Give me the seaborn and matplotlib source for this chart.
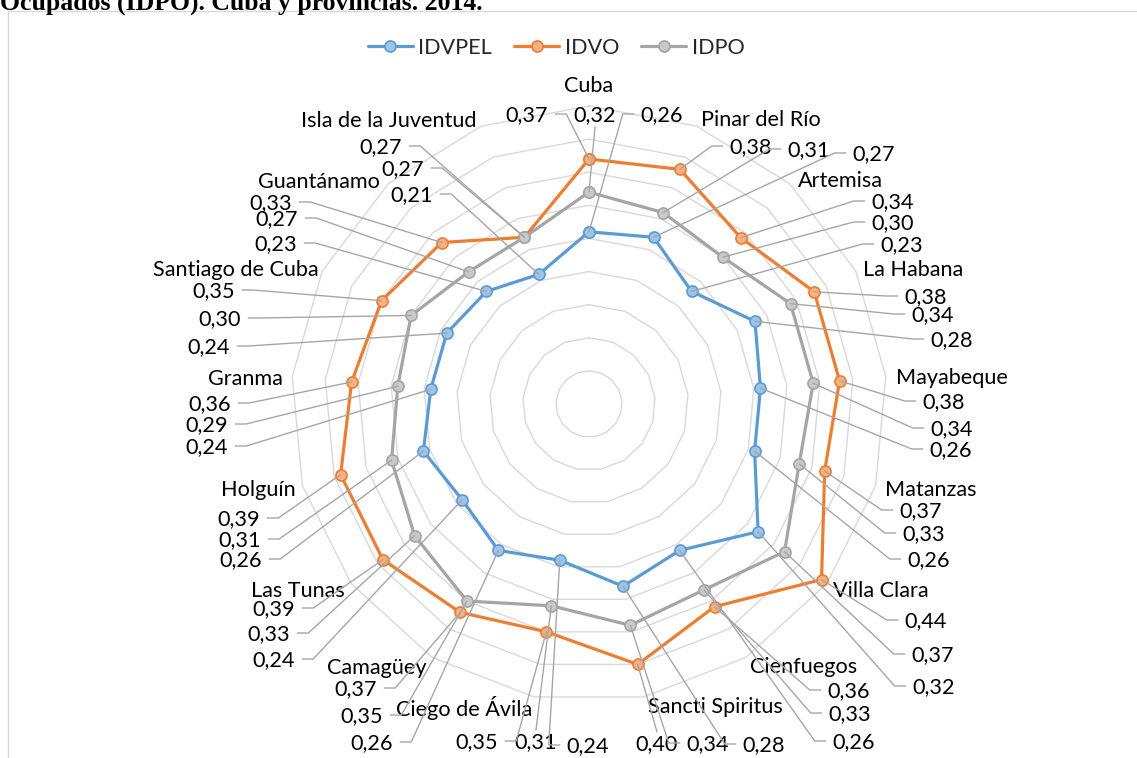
import numpy as np
import pandas as pd
import matplotlib
matplotlib.use("Agg")
import matplotlib.pyplot as plt
from matplotlib.lines import Line2D
from matplotlib.patches import Rectangle
import seaborn as sns

# ---- data -------------------------------------------------------------
categories = ["Cuba", "Pinar del Río", "Artemisa", "La Habana", "Mayabeque",
              "Matanzas", "Villa Clara", "Cienfuegos", "Sancti Spiritus",
              "Ciego de Ávila", "Camagüey", "Las Tunas", "Holguín", "Granma",
              "Santiago de Cuba", "Guantánamo", "Isla de la Juventud"]
idvpel = [0.26, 0.27, 0.23, 0.28, 0.26, 0.26, 0.32, 0.26, 0.28, 0.24,
          0.26, 0.24, 0.26, 0.24, 0.24, 0.23, 0.21]
idvo = [0.37, 0.38, 0.34, 0.38, 0.38, 0.37, 0.44, 0.36, 0.40, 0.35,
        0.37, 0.39, 0.39, 0.36, 0.35, 0.33, 0.27]
idpo = [0.32, 0.31, 0.30, 0.34, 0.34, 0.33, 0.37, 0.33, 0.34, 0.31,
        0.35, 0.33, 0.31, 0.29, 0.30, 0.27, 0.27]
series_names = ["IDVPEL", "IDVO", "IDPO"]
ring_levels = [0.05, 0.10, 0.15, 0.20, 0.25, 0.30, 0.35, 0.40, 0.45]
title_text = "Ocupados (IDPO). Cuba y provincias. 2014."

# ---- styles -----------------------------------------------------------
W, H = 1137, 758
line_colors = {"IDVPEL": "#5B9BD5", "IDVO": "#ED7D31", "IDPO": "#A5A5A5"}
face_colors = {"IDVPEL": "#9DC3E6", "IDVO": "#F4B183", "IDPO": "#C9C9C9"}
grid_color = "#D9D9D9"
leader_color = "#A6A6A6"
font_size = 15.6

# label placement, pixel coordinates measured from the top-left corner
name_pos = {
    "Cuba": (589, 84), "Pinar del Río": (761, 118), "Artemisa": (840, 179),
    "La Habana": (913, 268), "Mayabeque": (952, 376), "Matanzas": (931, 488),
    "Villa Clara": (881, 589), "Cienfuegos": (804, 665),
    "Sancti Spiritus": (715, 705), "Ciego de Ávila": (464, 706),
    "Camagüey": (377, 666), "Las Tunas": (298, 589), "Holguín": (258, 488),
    "Granma": (245, 377), "Santiago de Cuba": (236, 268),
    "Guantánamo": (319, 180), "Isla de la Juventud": (389, 119),
}
# order inside each entry: IDVO, IDPO, IDVPEL
value_pos = {
    "Cuba": [(527, 113), (595, 113), (662, 113)],
    "Pinar del Río": [(751, 145), (809, 148), (874, 152)],
    "Artemisa": [(893, 200), (893, 221), (902, 243)],
    "La Habana": [(926, 295), (933, 313), (952, 338)],
    "Mayabeque": [(944, 400), (952, 427), (951, 448)],
    "Matanzas": [(921, 509), (924, 532), (929, 558)],
    "Villa Clara": [(926, 619), (933, 653), (934, 685)],
    "Cienfuegos": [(849, 689), (850, 712), (854, 740)],
    "Sancti Spiritus": [(657, 742), (708, 742), (764, 743)],
    "Ciego de Ávila": [(477, 740), (536, 740), (588, 744)],
    "Camagüey": [(356, 687), (362, 714), (372, 741)],
    "Las Tunas": [(274, 607), (269, 632), (274, 658)],
    "Holguín": [(239, 517), (240, 538), (241, 558)],
    "Granma": [(210, 402), (207, 423), (207, 445)],
    "Santiago de Cuba": [(214, 289), (220, 317), (209, 345)],
    "Guantánamo": [(271, 201), (277, 217), (276, 242)],
    "Isla de la Juventud": [(381, 145), (403, 167), (412, 193)],
}

sns.set_theme(style="white")
plt.rcParams["font.family"] = ["Lato", "DejaVu Sans"]

fig = plt.figure(figsize=(W / 100, H / 100), dpi=100)
fig.patch.set_facecolor("white")

# chart-area border (only the left and top edges fall inside the canvas)
fig.add_artist(Rectangle((8 / W, -0.1), 1.2, 1 - 11 / H + 0.1,
                         transform=fig.transFigure, fill=False,
                         edgecolor=grid_color, linewidth=1.0))

# title (partially above the canvas)
fig.text(0 / W, 1 - 10 / H, title_text, ha="left", va="baseline",
         family="Liberation Serif", fontweight="bold", fontsize=18.5,
         color="black")

# radar axes: centre at (589, 404) px, 0.45 -> 298 px
cx, cy, R = 589, 404, 298
ax = fig.add_axes([(cx - R) / W, (H - cy - R) / H, 2 * R / W, 2 * R / H],
                  projection="polar")
ax.set_theta_zero_location("N")
ax.set_theta_direction(-1)
ax.set_ylim(0, ring_levels[-1])
ax.grid(False)
ax.set_xticks([])
ax.set_yticks([])
ax.spines["polar"].set_visible(False)
ax.set_facecolor("none")

n = len(categories)
theta = np.arange(n) * 2 * np.pi / n
theta_closed = np.append(theta, 2 * np.pi)

# polygon gridlines
for lvl in ring_levels:
    ax.plot(theta_closed, np.full(n + 1, lvl), color=grid_color,
            linewidth=1.0, zorder=1, clip_on=False)

# series
values = {"IDVPEL": idvpel, "IDVO": idvo, "IDPO": idpo}
frames = []
for name in series_names:
    v = values[name]
    frames.append(pd.DataFrame({"theta": theta_closed,
                                "value": v + v[:1],
                                "serie": name}))
df = pd.concat(frames, ignore_index=True)
for i, name in enumerate(series_names):
    sub = df[df["serie"] == name]
    sns.lineplot(data=sub, x="theta", y="value", ax=ax, sort=False,
                 estimator=None, legend=False, color=line_colors[name],
                 linewidth=2.3, marker="o", markersize=8,
                 markerfacecolor=face_colors[name],
                 markeredgecolor=line_colors[name], markeredgewidth=1.2,
                 zorder=3 + i, clip_on=False)
ax.set_xlabel("")
ax.set_ylabel("")
ax.set_ylim(0, ring_levels[-1])

# legend
handles = [Line2D([], [], color=line_colors[s], linewidth=2.3, marker="o",
                  markersize=8, markerfacecolor=face_colors[s],
                  markeredgecolor=line_colors[s], markeredgewidth=1.2)
           for s in series_names]
fig.legend(handles, series_names, loc="center",
           bbox_to_anchor=(556 / W, 1 - 48 / H), ncol=3, frameon=False,
           fontsize=font_size, handlelength=2.1, handletextpad=0.25,
           columnspacing=1.0, borderpad=0)


def px(x, y):
    return x / W, 1 - y / H


# category names
for cat in categories:
    fig.text(*px(*name_pos[cat]), cat, ha="center", va="center_baseline",
             fontsize=font_size, color="black")

# value labels with leader lines
fig.canvas.draw()
renderer = fig.canvas.get_renderer()
label_order = ["IDVO", "IDPO", "IDVPEL"]
pad, tick = 7, 11
for k, cat in enumerate(categories):
    for j, name in enumerate(label_order):
        v = values[name][k]
        lx, ly = value_pos[cat][j]
        t = fig.text(*px(lx, ly), f"{v:.2f}".replace(".", ","),
                     ha="center", va="center_baseline", fontsize=font_size,
                     color="black")
        bb = t.get_window_extent(renderer)
        pxd, pyd = ax.transData.transform((theta[k], v))
        mid_y = (bb.y0 + bb.y1) / 2 + 1
        if bb.x0 - 2 <= pxd <= bb.x1 + 2:
            if pyd > bb.y1:
                pts = [((bb.x0 + bb.x1) / 2, bb.y1 + 2), (pxd, pyd)]
            else:
                pts = [((bb.x0 + bb.x1) / 2, bb.y0 - 2), (pxd, pyd)]
        elif pxd < bb.x0:
            pts = [(bb.x0 - pad, mid_y), (bb.x0 - pad - tick, mid_y),
                   (pxd, pyd)]
        else:
            pts = [(bb.x1 + pad, mid_y), (bb.x1 + pad + tick, mid_y),
                   (pxd, pyd)]
        xs = [p[0] / W for p in pts]
        ys = [p[1] / H for p in pts]
        fig.add_artist(Line2D(xs, ys, transform=fig.transFigure,
                              color=leader_color, linewidth=1.0, zorder=5))

fig.savefig("out.png", dpi=100, facecolor="white")
